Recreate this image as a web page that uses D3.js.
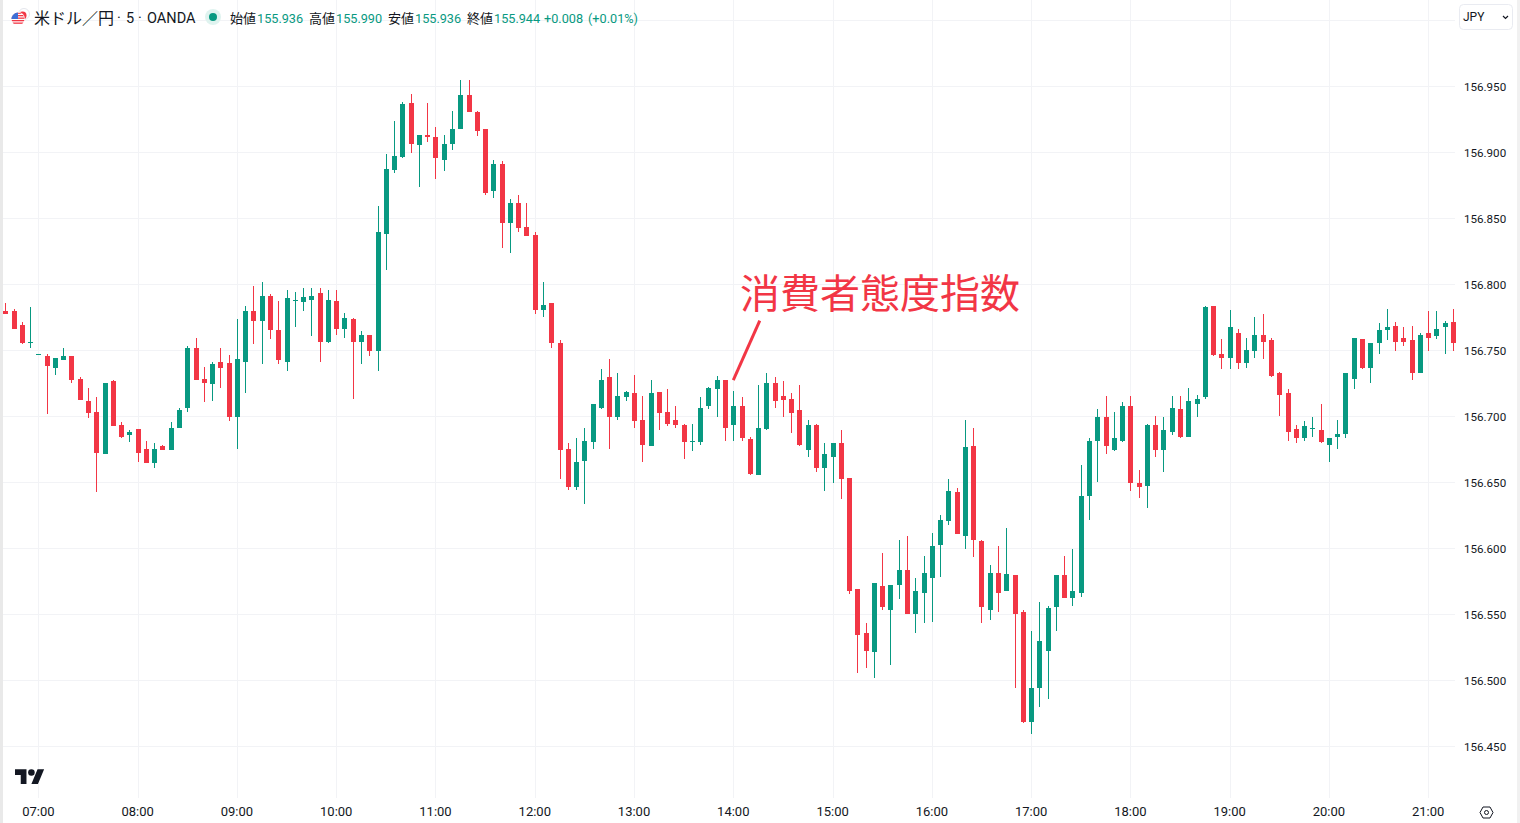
<!DOCTYPE html>
<html lang="ja">
<head>
<meta charset="utf-8">
<title>米ドル／円 5分足</title>
<script src="https://cdn.jsdelivr.net/npm/d3@7"></script>
<style>
  html, body { margin: 0; padding: 0; background: #fff; overflow: hidden; }
  svg { display: block; }
  text { font-family: Roboto, "Noto Sans CJK JP", sans-serif; }
</style>
</head>
<body>
<div id="chart"></div>
<script>
// candle prices, in thousandths above 156.000 (first candle is 06:40, 5 min bars)
const opens = [
  780,780,770,756,748,746,737,743,746,729,
  712,704,672,727,694,686,691,676,665,678,
  675,692,707,752,729,725,742,741,700,742,
  780,773,792,766,742,788,787,789,794,757,
  788,767,774,757,762,750,839,887,897,938,
  906,914,912,895,907,918,944,931,918,871,
  892,847,862,844,838,781,786,756,676,647,
  667,681,707,730,700,715,718,698,678,719,
  704,698,694,681,681,708,721,728,694,708,
  683,656,691,726,716,714,705,675,694,661,
  670,680,654,570,536,522,572,554,573,584,
  551,567,578,603,621,643,610,678,606,554,
  582,568,580,552,469,495,523,556,580,563,
  567,640,682,700,675,682,708,650,648,694,
  675,689,706,685,710,715,784,748,745,764,
  741,750,762,758,733,718,691,684,691,690,
  679,685,687,729,759,737,756,766,769,760,
  758,733,764,761,768,772
];
const highs = [
  786,782,772,783,748,748,745,752,746,730,
  722,715,726,728,696,690,691,682,680,679,
  696,707,754,760,738,742,752,747,774,784,
  799,802,793,788,796,795,798,798,798,796,
  796,779,775,765,762,860,899,924,939,945,
  914,938,920,914,932,955,955,932,918,895,
  894,865,868,862,840,802,786,758,680,684,
  692,710,736,744,733,720,732,716,728,719,
  721,708,695,695,715,723,731,728,720,715,
  685,724,733,730,727,718,724,698,695,680,
  680,690,654,570,544,574,597,573,607,610,
  578,595,612,626,653,646,698,692,607,588,
  602,616,580,554,538,560,557,580,595,600,
  664,684,706,716,704,711,716,660,695,701,
  700,716,716,722,717,784,784,759,781,767,
  760,776,778,760,734,721,694,697,700,710,
  684,698,733,760,759,756,771,782,772,768,
  769,764,780,780,773,782
];
const lows = [
  778,767,755,752,748,702,732,743,726,713,
  699,643,672,693,684,681,666,665,661,675,
  675,692,704,728,711,712,722,697,676,718,
  755,740,759,740,735,768,780,761,742,756,
  762,760,714,740,746,735,811,885,896,900,
  874,908,880,886,902,918,931,913,868,866,
  828,824,840,837,778,776,752,653,645,645,
  634,676,706,676,698,712,692,666,678,690,
  693,692,668,674,679,706,700,682,682,682,
  656,656,690,707,700,688,678,670,658,644,
  650,638,566,506,510,502,554,512,562,551,
  536,544,545,579,618,611,600,594,544,546,
  552,568,495,468,460,480,486,538,563,557,
  564,622,651,672,674,681,644,639,631,670,
  658,686,684,685,700,714,746,736,736,736,
  737,745,744,730,701,682,680,682,685,680,
  666,676,684,721,736,726,748,758,750,754,
  728,733,750,759,748,750
];
const closes = [
  778,767,756,757,748,739,745,746,728,713,
  703,673,726,693,685,689,673,665,676,675,
  692,705,752,728,726,740,737,700,744,780,
  773,792,766,743,790,789,791,792,757,789,
  767,775,757,762,750,840,888,898,937,907,
  914,912,896,907,918,944,931,917,870,892,
  847,862,843,837,781,785,756,675,647,666,
  682,710,728,700,716,719,697,679,718,703,
  695,694,681,682,707,722,728,692,708,684,
  657,692,726,712,713,703,679,694,661,672,
  680,653,568,535,523,574,556,573,584,551,
  568,582,602,622,644,611,677,607,556,582,
  567,581,551,469,495,530,555,580,563,568,
  640,682,700,678,684,708,650,647,694,675,
  690,707,685,712,714,783,747,745,768,741,
  751,762,757,731,717,689,684,693,692,681,
  684,687,733,760,737,756,766,768,757,757,
  733,762,760,767,771,756
];

const priceTicks = [156.45, 156.5, 156.55, 156.6, 156.65, 156.7, 156.75, 156.8, 156.85, 156.9, 156.95];
const gridPrices = [...priceTicks, 157];
const hourTicks = [7, 8, 9, 10, 11, 12, 13, 14, 15, 16, 17, 18, 19, 20, 21];

const symbolName = "米ドル／円";
const symbolRest = ["·", "5", "·", "OANDA"];
const ohlcNames = ["始値", "高値", "安値", "終値"];
const ohlcValues = ["155.936", "155.990", "155.936", "155.944"];
const changeLabel = "+0.008";
const changePct = "(+0.01%)";
const noteText = "消費者態度指数";

const upColor = "#089981";
const downColor = "#f23645";
const gridColor = "#f2f3f6";
const textColor = "#131722";

const width = 1520;
const height = 823;

const day = (h, m = 0) => new Date(2024, 5, 28, h, m);
const x = d3.scaleTime().domain([day(7), day(21)]).range([38.4, 1428.2]);
const y = d3.scaleLinear().domain([156.45, 156.95]).range([747, 87]);
const price = (v) => 156 + v / 1000;

const candles = opens.map((o, i) => ({
  time: d3.timeMinute.offset(day(6, 40), i * 5),
  open: price(o),
  high: price(highs[i]),
  low: price(lows[i]),
  close: price(closes[i]),
}));

const svg = d3.select("#chart").append("svg")
  .attr("width", width)
  .attr("height", height)
  .style("background-color", "#fff");

// grid
svg.append("g").selectAll("line")
  .data(hourTicks)
  .join("line")
  .attr("x1", (d) => Math.round(x(day(d))) + 0.5)
  .attr("x2", (d) => Math.round(x(day(d))) + 0.5)
  .attr("y1", 0)
  .attr("y2", 798)
  .attr("stroke", gridColor);

svg.append("g").selectAll("line")
  .data(gridPrices)
  .join("line")
  .attr("x1", 3)
  .attr("x2", 1455)
  .attr("y1", (d) => Math.round(y(d)) - 0.5)
  .attr("y2", (d) => Math.round(y(d)) - 0.5)
  .attr("stroke", gridColor);

// candles
const candle = svg.append("g").selectAll("g")
  .data(candles)
  .join("g")
  .attr("fill", (d) => (d.close >= d.open ? upColor : downColor));

candle.append("rect")
  .attr("x", (d) => Math.round(x(d.time)))
  .attr("width", 1)
  .attr("y", (d) => Math.round(y(d.high)))
  .attr("height", (d) => Math.max(1, Math.round(y(d.low)) - Math.round(y(d.high))));

candle.append("rect")
  .attr("x", (d) => Math.round(x(d.time)) - 2)
  .attr("width", 5)
  .attr("y", (d) => Math.round(y(Math.max(d.open, d.close))))
  .attr("height", (d) => Math.max(1, Math.round(y(Math.min(d.open, d.close))) - Math.round(y(Math.max(d.open, d.close)))));

// axes
const yAxis = d3.axisRight(y)
  .tickValues(priceTicks)
  .tickSize(0)
  .tickPadding(0)
  .offset(0)
  .tickFormat(d3.format(".3f"));
svg.append("g")
  .attr("transform", "translate(1464,0)")
  .call(yAxis)
  .call((g) => g.select(".domain").remove())
  .call((g) => g.selectAll("text").attr("font-size", 11.6).attr("fill", textColor).style("font-family", "Roboto"));

const xAxis = d3.axisBottom(x)
  .tickValues(hourTicks.map((h) => day(h)))
  .tickSize(0)
  .tickPadding(0)
  .offset(0)
  .tickFormat(d3.timeFormat("%H:%M"));
svg.append("g")
  .attr("transform", "translate(0,807)")
  .call(xAxis)
  .call((g) => g.select(".domain").remove())
  .call((g) => g.selectAll("text").attr("font-size", 13).attr("fill", textColor).style("font-family", "Roboto"));

// news note
svg.append("text")
  .attr("x", 740)
  .attr("y", 308)
  .attr("font-size", 40)
  .attr("fill", downColor)
  .style("font-family", '"Noto Sans CJK JP"')
  .text(noteText);

svg.append("line")
  .attr("x1", x(day(14, 16)))
  .attr("y1", y(price(773)))
  .attr("x2", x(day(14)))
  .attr("y2", y(price(728)))
  .attr("stroke", downColor)
  .attr("stroke-width", 3);

// header
const flag = svg.append("g");
flag.append("circle").attr("cx", 24).attr("cy", 14).attr("r", 5.5).attr("fill", "#fff").attr("stroke", "#e4e6ec");
flag.append("circle").attr("cx", 22.5).attr("cy", 15.5).attr("r", 4).attr("fill", downColor);
flag.append("circle").attr("cx", 18).attr("cy", 19).attr("r", 7).attr("fill", "#fff");
const usClip = flag.append("clipPath").attr("id", "usClip");
usClip.append("circle").attr("cx", 18).attr("cy", 19).attr("r", 6.5);
const usFlag = flag.append("g").attr("clip-path", "url(#usClip)");
usFlag.selectAll("rect")
  .data([12.5, 15, 17.5, 20, 22.5])
  .join("rect")
  .attr("x", 11)
  .attr("y", (d) => d)
  .attr("width", 14)
  .attr("height", 1.3)
  .attr("fill", downColor);
usFlag.append("rect").attr("x", 11).attr("y", 12).attr("width", 7).attr("height", 7).attr("fill", "#3d6fd6");

svg.append("text")
  .attr("x", 34)
  .attr("y", 23.5)
  .attr("font-size", 16)
  .attr("fill", textColor)
  .text(symbolName);

const symbolRestX = [117, 126, 138, 147];
symbolRest.forEach((part, i) => {
  svg.append("text")
    .attr("x", symbolRestX[i])
    .attr("y", 23)
    .attr("font-size", 14.5)
    .attr("fill", textColor)
    .text(part);
});

svg.append("circle").attr("cx", 213).attr("cy", 17).attr("r", 8).attr("fill", "#dff3ef");
svg.append("circle").attr("cx", 213).attr("cy", 17).attr("r", 4).attr("fill", upColor);

const ohlcX = [230, 309, 388, 467];
ohlcNames.forEach((name, i) => {
  svg.append("text")
    .attr("x", ohlcX[i])
    .attr("y", 23)
    .attr("font-size", 13)
    .attr("fill", textColor)
    .text(name);
  svg.append("text")
    .attr("x", ohlcX[i] + 27)
    .attr("y", 22.5)
    .attr("font-size", 12.7)
    .attr("fill", upColor)
    .text(ohlcValues[i]);
});
svg.append("text").attr("x", 544).attr("y", 22.5).attr("font-size", 12.7).attr("fill", upColor).text(changeLabel);
svg.append("text").attr("x", 588).attr("y", 22.5).attr("font-size", 12.7).attr("fill", upColor).text(changePct);

// currency button
svg.append("rect")
  .attr("x", 1459.5).attr("y", 4.5).attr("width", 53).attr("height", 25).attr("rx", 4)
  .attr("fill", "#fff").attr("stroke", "#e9ebf1");
svg.append("text").attr("x", 1463).attr("y", 21).attr("font-size", 12).attr("fill", textColor).text("JPY");
svg.append("path")
  .attr("d", "M1503 16l2.5 2.5 2.5-2.5")
  .attr("fill", "none").attr("stroke", textColor).attr("stroke-width", 1.2);

// logo
const logo = svg.append("g").attr("transform", "translate(15,766) scale(0.82)").attr("fill", textColor);
logo.append("path").attr("d", "M14 22H7V11H0V4h14v18zM28 22h-8l7.5-18h8L28 22z");
logo.append("circle").attr("cx", 20).attr("cy", 8).attr("r", 4);

// scale settings icon
svg.append("circle").attr("cx", 1486.5).attr("cy", 812.5).attr("r", 2).attr("fill", "none").attr("stroke", textColor);
svg.append("path")
  .attr("d", "M1480 812.5l3-5.5h7l3 5.5-3 5.5h-7z")
  .attr("fill", "none").attr("stroke", textColor);

// window edges
svg.append("rect").attr("x", 0).attr("y", 0).attr("width", 3).attr("height", height).attr("fill", "#e9e9e9");
svg.append("rect").attr("x", 1517).attr("y", 0).attr("width", 3).attr("height", height).attr("fill", "#f1f1f1");
</script>
</body>
</html>
